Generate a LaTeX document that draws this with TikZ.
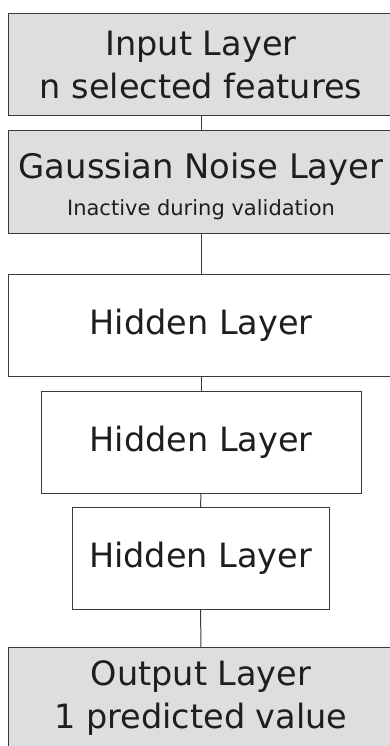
\documentclass[tikz,border=0pt]{standalone}
\usepackage{fontspec}
\setmainfont{DejaVu Sans}
\usepackage{tikz}
\usetikzlibrary{positioning}
\definecolor{layergray}{RGB}{221,222,224}
\definecolor{edgegray}{RGB}{58,58,58}
\definecolor{textgray}{RGB}{30,30,30}
\tikzset{
  layer/.style={draw=edgegray,line width=1pt,inner sep=0pt,outer sep=0pt,align=center,
    text=textgray,font=\fontsize{33.5}{43}\selectfont},
  widelayer/.style={layer,minimum width=386pt,minimum height=102pt},
  link/.style={draw=edgegray,line width=1pt}
}

\begin{document}
\begin{tikzpicture}[x=1pt,y=-1pt]
  \useasboundingbox (0,0) rectangle (390,746);
  \node[widelayer,fill=layergray] (input) at (201,65) {Input Layer\\n selected features};
  \node[widelayer,fill=layergray] (noise) at (201,182) {};
  \node[align=center,inner sep=0pt,text=textgray,font=\fontsize{33.8}{43}\selectfont] (noisetext)
    at ([yshift=-4pt]noise.center)
    {Gaussian Noise Layer\\[-6pt]{\fontsize{21}{25}\selectfont Inactive during validation}};
  \node[widelayer,fill=white] (hidA) at (201,325) {Hidden Layer};
  \node[layer,fill=white,minimum width=320pt,minimum height=102pt] (hidB) at (201,442) {Hidden Layer};
  \node[layer,fill=white,minimum width=257pt,minimum height=102pt] (hidC) at (200.5,558) {Hidden Layer};
  \node[widelayer,fill=layergray] (output) at (201,698) {Output Layer\\1 predicted value};
  % connectors
  \draw[link] (input) -- (noise);
  \draw[link] (noise) -- (hidA);
  \draw[link] (hidA) -- (hidB);
  \draw[link] (hidB) -- (hidC);
  \draw[link] (hidC) -- (output);
\end{tikzpicture}
\end{document}
